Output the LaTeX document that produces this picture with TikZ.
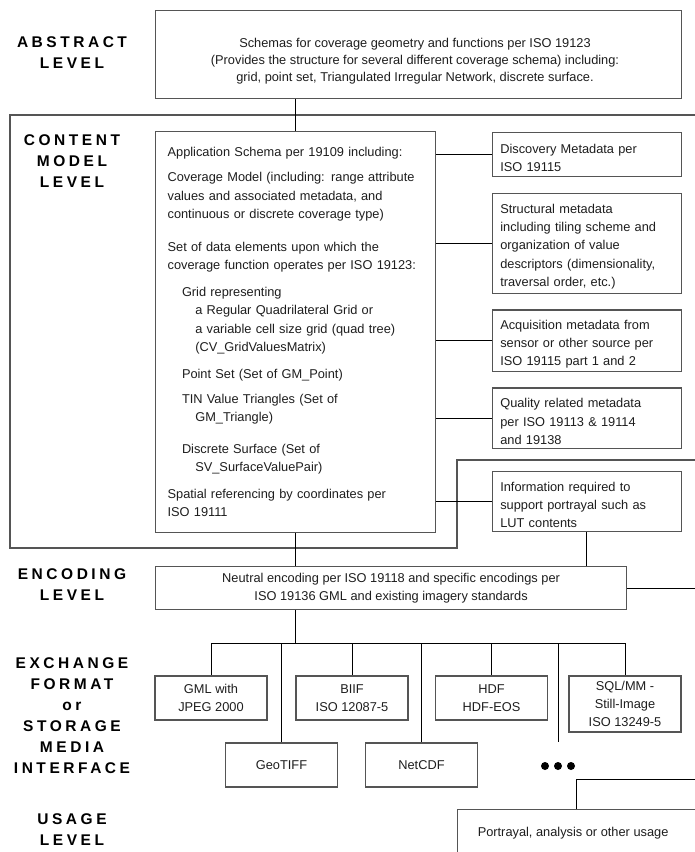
\documentclass[tikz,border=0pt]{standalone}
\usepackage{fontspec}
\setmainfont{Liberation Sans}
\newfontfamily\lvlfont[LetterSpace=22.8]{Liberation Sans}
\newcommand\bxfont{\fontsize{12.8}{18.3}\selectfont}
\newcommand\dnstrut{\rule{0pt}{16pt}}
\definecolor{bordergray}{HTML}{555555}
\definecolor{txtcol}{HTML}{1E1E1E}
\begin{document}
\begin{tikzpicture}[x=1pt,y=-1pt,
  box/.style={draw=bordergray,line width=1.2pt,inner sep=0pt,font=\bxfont,text=txtcol},
  rbox/.style={box,anchor=north west,minimum width=189pt,text width=173pt,inner xsep=8pt,align=left},
  xbox/.style={box,minimum width=112pt,minimum height=44pt,align=center},
  conn/.style={draw=black,line width=1pt},
  frameline/.style={draw=bordergray,line width=1.2pt},
  lvl/.style={align=center,font=\lvlfont\bfseries\fontsize{15.5}{21}\selectfont,text=black}]
\useasboundingbox (0,0) rectangle (695,852);
\clip (0,0) rectangle (695,852);
\fill[white] (0,0) rectangle (695,852);

% content level frame
\draw[frameline] (700,115) -- (10,115) -- (10,548) -- (457,548) -- (457,460) -- (700,460);

% level labels
\node[lvl] (labA) at (72,53) {ABSTRACT\\LEVEL};
\node[lvl] (labC) at (72,161.5) {CONTENT\\MODEL\\LEVEL};
\node[lvl] (labE) at (72,585) {ENCODING\\LEVEL};
\node[lvl] (labX) at (72,715.5) {EXCHANGE\\FORMAT\\or\\STORAGE\\MEDIA\\INTERFACE};
\node[lvl] (labU) at (72,830) {USAGE\\LEVEL};

% abstract level
\node[box,anchor=north west,minimum width=526pt,minimum height=88pt] (abs) at (155,10) {};
\node[font=\fontsize{12.8}{17}\selectfont,text=txtcol,align=center,inner sep=0pt] (abstxt) at (415,61) {Schemas for coverage geometry and functions per ISO 19123\\(Provides the structure for several different coverage schema) including:\\grid, point set, Triangulated Irregular Network, discrete surface.};

% content model level
\node[box,anchor=north west,minimum width=280pt,minimum height=401pt,text width=256pt,inner xsep=12pt,align=left] (app) at (155,131) {Application Schema per 19109 including:\\[6.7pt]
Coverage Model (including: range attribute\\
values and associated metadata, and\\
continuous or discrete coverage type)\\[15pt]
Set of data elements upon which the\\
coverage function operates per ISO 19123:\\[8.4pt]
\hspace*{14.4pt}Grid representing\\
\hspace*{27.7pt}a Regular Quadrilateral Grid or\\
\hspace*{27.7pt}a variable cell size grid (quad tree)\\
\hspace*{27.7pt}(CV\_GridValuesMatrix)\\[8.4pt]
\hspace*{14.4pt}Point Set (Set of GM\_Point)\\[6.7pt]
\hspace*{14.4pt}TIN Value Triangles (Set of\\
\hspace*{27.7pt}GM\_Triangle)\\[13.4pt]
\hspace*{14.4pt}Discrete Surface (Set of\\
\hspace*{27.7pt}SV\_SurfaceValuePair)\\[8.4pt]
Spatial referencing by coordinates per\\
ISO 19111};

\node[rbox,minimum height=44.3pt] (disc) at (491.7,131.7) {\dnstrut Discovery Metadata per\\ISO 19115};
\node[rbox,minimum height=100pt] (struct) at (491.7,192.7) {\dnstrut Structural metadata\\including tiling scheme and\\organization of value\\descriptors (dimensionality,\\traversal order, etc.)};
\node[rbox,minimum height=61.7pt] (acq) at (491.7,309.3) {\dnstrut Acquisition metadata from\\sensor or other source per\\ISO 19115 part 1 and 2};
\node[rbox,minimum height=60.4pt] (qual) at (491.7,387.3) {\dnstrut Quality related metadata\\per ISO 19113 \& 19114\\and 19138};
\node[rbox,minimum height=60.3pt] (info) at (491.7,470.7) {\dnstrut Information required to\\support portrayal such as\\LUT contents};

% encoding level
\node[box,anchor=north west,minimum width=471pt,minimum height=43pt,align=center] (enc) at (155,566) {Neutral encoding per ISO 19118 and specific encodings per\\ISO 19136 GML and existing imagery standards};

% exchange formats
\node[xbox] (gml) at (211,698) {GML with\\JPEG 2000};
\node[xbox] (geo) at (281.5,765) {GeoTIFF};
\node[xbox] (biif) at (352,698) {BIIF\\ISO 12087-5};
\node[xbox] (netcdf) at (421.5,765) {NetCDF};
\node[xbox] (hdf) at (491.5,698) {HDF\\HDF-EOS};
\node[xbox,minimum height=56pt] (sql) at (625,704) {SQL/MM -\\Still-Image\\ISO 13249-5};

% usage level
\node[box,anchor=north west,minimum width=260pt,minimum height=48pt] (use) at (457,809) {\hspace*{-29pt}Portrayal, analysis or other usage};

% helper coordinates
\coordinate (redge) at (700,0);
\coordinate (bus) at (295,643);
\coordinate (dotsend) at (558,742);
\coordinate (ucorner) at (576,779);

% connectors
\draw[conn] (abs.south -| app.north) -- (app.north);
\draw[conn] (app.south) -- (app.south |- enc.north);
\foreach \b in {disc,struct,acq,qual,info}
  \draw[conn] (app.east |- \b.west) -- (\b.west);
\draw[conn] (info.south) -- (info.south |- enc.north);
\draw[conn] (enc.east) -- (enc.east -| redge);
\draw[conn] (enc.south -| bus) -- (bus);
\draw[conn] (gml.north |- bus) -- (sql.north |- bus);
\foreach \b in {gml,geo,biif,netcdf,hdf,sql}
  \draw[conn] (\b.north |- bus) -- (\b.north);
\draw[conn] (dotsend |- bus) -- (dotsend);
\draw[conn] (use.north -| ucorner) -- (ucorner) -- (ucorner -| redge);

% ellipsis dots
\fill (545,766) circle (4pt);
\fill (558,766) circle (4pt);
\fill (571,766) circle (4pt);
\end{tikzpicture}
\end{document}
